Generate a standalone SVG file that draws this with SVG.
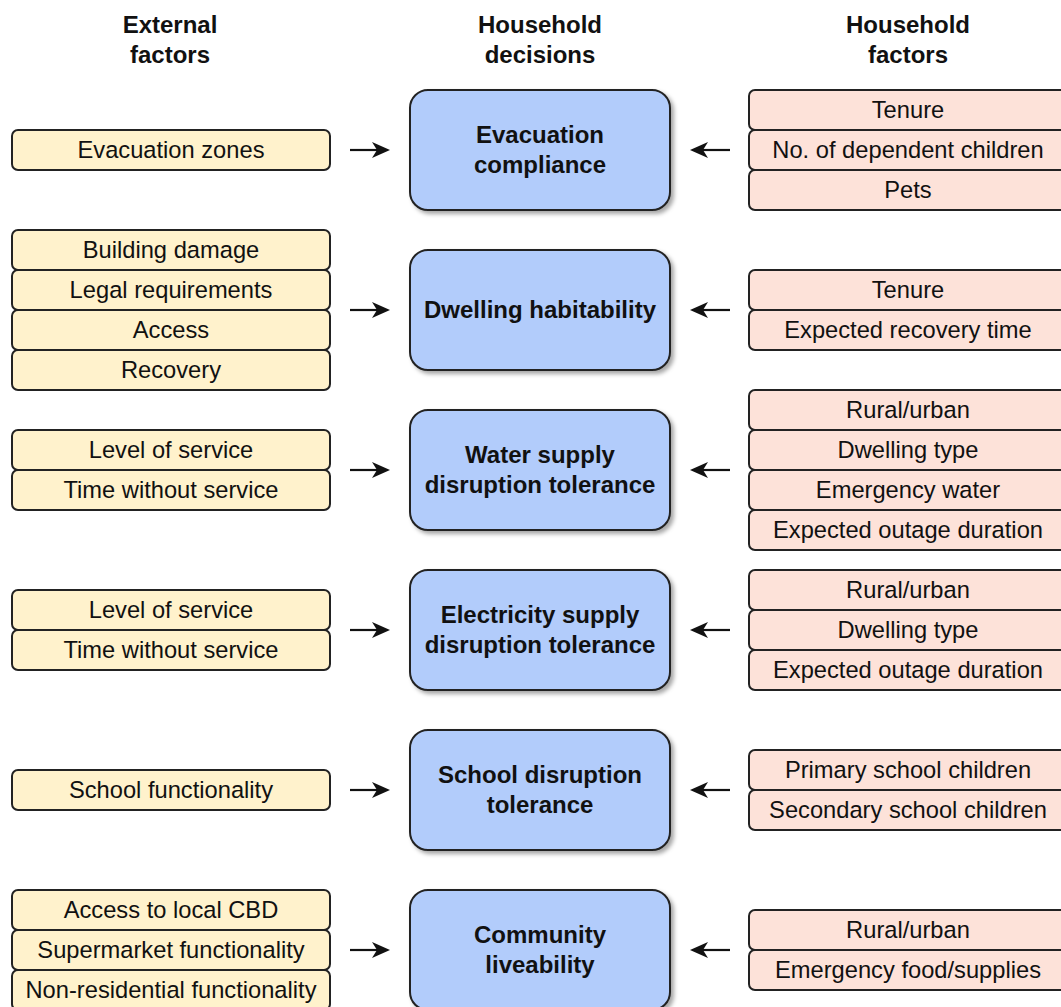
<svg xmlns="http://www.w3.org/2000/svg" width="1061" height="1007" viewBox="0 0 1061 1007">
<style>
  text{font-family:"Liberation Sans",Arial,sans-serif;fill:#111;text-anchor:middle}
  .hd{font-size:24px;font-weight:bold}
  .bx{font-size:23.7px}
  .ct{font-size:24px;font-weight:bold}
  .ext{fill:#fff2cc;stroke:#222;stroke-width:2}
  .hh{fill:#fde2d9;stroke:#222;stroke-width:2}
  .dec{fill:#b2ccfb;stroke:#222;stroke-width:2;filter:url(#sh)}
  .conn line{stroke:#111;stroke-width:2.2;marker-end:url(#arr)}
</style>
<defs>
  <filter id="sh" x="-10%" y="-10%" width="125%" height="130%">
    <feDropShadow dx="3" dy="3" stdDeviation="2" flood-color="#000" flood-opacity="0.35"/>
  </filter>
  <marker id="arr" viewBox="0 0 18 16" refX="9" refY="8" markerWidth="18" markerHeight="16" markerUnits="userSpaceOnUse" orient="auto">
    <path d="M0,0 L18,8 L0,16 L5,8 Z" fill="#111"/>
  </marker>
</defs>
<rect width="1061" height="1007" fill="#fff"/>

<g id="headers">
  <text class="hd" x="170" y="33">External</text>
  <text class="hd" x="170" y="63">factors</text>
  <text class="hd" x="540" y="33">Household</text>
  <text class="hd" x="540" y="63">decisions</text>
  <text class="hd" x="908" y="33">Household</text>
  <text class="hd" x="908" y="63">factors</text>
</g>

<!-- External factors -->
<g id="ext1">
  <rect class="ext" x="12" y="130" width="318" height="40" rx="6"/>
  <text class="bx" x="171" y="158">Evacuation zones</text>
</g>
<g id="ext2">
  <rect class="ext" x="12" y="230" width="318" height="40" rx="6"/>
  <text class="bx" x="171" y="258">Building damage</text>
  <rect class="ext" x="12" y="270" width="318" height="40" rx="6"/>
  <text class="bx" x="171" y="298">Legal requirements</text>
  <rect class="ext" x="12" y="310" width="318" height="40" rx="6"/>
  <text class="bx" x="171" y="338">Access</text>
  <rect class="ext" x="12" y="350" width="318" height="40" rx="6"/>
  <text class="bx" x="171" y="378">Recovery</text>
</g>
<g id="ext3">
  <rect class="ext" x="12" y="430" width="318" height="40" rx="6"/>
  <text class="bx" x="171" y="458">Level of service</text>
  <rect class="ext" x="12" y="470" width="318" height="40" rx="6"/>
  <text class="bx" x="171" y="498">Time without service</text>
</g>
<g id="ext4">
  <rect class="ext" x="12" y="590" width="318" height="40" rx="6"/>
  <text class="bx" x="171" y="618">Level of service</text>
  <rect class="ext" x="12" y="630" width="318" height="40" rx="6"/>
  <text class="bx" x="171" y="658">Time without service</text>
</g>
<g id="ext5">
  <rect class="ext" x="12" y="770" width="318" height="40" rx="6"/>
  <text class="bx" x="171" y="798">School functionality</text>
</g>
<g id="ext6">
  <rect class="ext" x="12" y="890" width="318" height="40" rx="6"/>
  <text class="bx" x="171" y="918">Access to local CBD</text>
  <rect class="ext" x="12" y="930" width="318" height="40" rx="6"/>
  <text class="bx" x="171" y="958">Supermarket functionality</text>
  <rect class="ext" x="12" y="970" width="318" height="40" rx="6"/>
  <text class="bx" x="171" y="998">Non-residential functionality</text>
</g>

<!-- Household decisions -->
<g id="dec1">
  <rect class="dec" x="410" y="90" width="260" height="120" rx="18"/>
  <text class="ct" x="540" y="143">Evacuation</text>
  <text class="ct" x="540" y="173">compliance</text>
</g>
<g id="dec2">
  <rect class="dec" x="410" y="250" width="260" height="120" rx="18"/>
  <text class="ct" x="540" y="318">Dwelling habitability</text>
</g>
<g id="dec3">
  <rect class="dec" x="410" y="410" width="260" height="120" rx="18"/>
  <text class="ct" x="540" y="463">Water supply</text>
  <text class="ct" x="540" y="493">disruption tolerance</text>
</g>
<g id="dec4">
  <rect class="dec" x="410" y="570" width="260" height="120" rx="18"/>
  <text class="ct" x="540" y="623">Electricity supply</text>
  <text class="ct" x="540" y="653">disruption tolerance</text>
</g>
<g id="dec5">
  <rect class="dec" x="410" y="730" width="260" height="120" rx="18"/>
  <text class="ct" x="540" y="783">School disruption</text>
  <text class="ct" x="540" y="813">tolerance</text>
</g>
<g id="dec6">
  <rect class="dec" x="410" y="890" width="260" height="120" rx="18"/>
  <text class="ct" x="540" y="943">Community</text>
  <text class="ct" x="540" y="973">liveability</text>
</g>

<!-- Household factors -->
<g id="hh1">
  <rect class="hh" x="749" y="90" width="318" height="40" rx="6"/>
  <text class="bx" x="908" y="118">Tenure</text>
  <rect class="hh" x="749" y="130" width="318" height="40" rx="6"/>
  <text class="bx" x="908" y="158">No. of dependent children</text>
  <rect class="hh" x="749" y="170" width="318" height="40" rx="6"/>
  <text class="bx" x="908" y="198">Pets</text>
</g>
<g id="hh2">
  <rect class="hh" x="749" y="270" width="318" height="40" rx="6"/>
  <text class="bx" x="908" y="298">Tenure</text>
  <rect class="hh" x="749" y="310" width="318" height="40" rx="6"/>
  <text class="bx" x="908" y="338">Expected recovery time</text>
</g>
<g id="hh3">
  <rect class="hh" x="749" y="390" width="318" height="40" rx="6"/>
  <text class="bx" x="908" y="418">Rural/urban</text>
  <rect class="hh" x="749" y="430" width="318" height="40" rx="6"/>
  <text class="bx" x="908" y="458">Dwelling type</text>
  <rect class="hh" x="749" y="470" width="318" height="40" rx="6"/>
  <text class="bx" x="908" y="498">Emergency water</text>
  <rect class="hh" x="749" y="510" width="318" height="40" rx="6"/>
  <text class="bx" x="908" y="538">Expected outage duration</text>
</g>
<g id="hh4">
  <rect class="hh" x="749" y="570" width="318" height="40" rx="6"/>
  <text class="bx" x="908" y="598">Rural/urban</text>
  <rect class="hh" x="749" y="610" width="318" height="40" rx="6"/>
  <text class="bx" x="908" y="638">Dwelling type</text>
  <rect class="hh" x="749" y="650" width="318" height="40" rx="6"/>
  <text class="bx" x="908" y="678">Expected outage duration</text>
</g>
<g id="hh5">
  <rect class="hh" x="749" y="750" width="318" height="40" rx="6"/>
  <text class="bx" x="908" y="778">Primary school children</text>
  <rect class="hh" x="749" y="790" width="318" height="40" rx="6"/>
  <text class="bx" x="908" y="818">Secondary school children</text>
</g>
<g id="hh6">
  <rect class="hh" x="749" y="910" width="318" height="40" rx="6"/>
  <text class="bx" x="908" y="938">Rural/urban</text>
  <rect class="hh" x="749" y="950" width="318" height="40" rx="6"/>
  <text class="bx" x="908" y="978">Emergency food/supplies</text>
</g>

<g id="connectors" class="conn">
  <line x1="350" y1="150" x2="381" y2="150"/>
  <line x1="350" y1="310" x2="381" y2="310"/>
  <line x1="350" y1="470" x2="381" y2="470"/>
  <line x1="350" y1="630" x2="381" y2="630"/>
  <line x1="350" y1="790" x2="381" y2="790"/>
  <line x1="350" y1="950" x2="381" y2="950"/>
  <line x1="730" y1="150" x2="699" y2="150"/>
  <line x1="730" y1="310" x2="699" y2="310"/>
  <line x1="730" y1="470" x2="699" y2="470"/>
  <line x1="730" y1="630" x2="699" y2="630"/>
  <line x1="730" y1="790" x2="699" y2="790"/>
  <line x1="730" y1="950" x2="699" y2="950"/>
</g>
</svg>
